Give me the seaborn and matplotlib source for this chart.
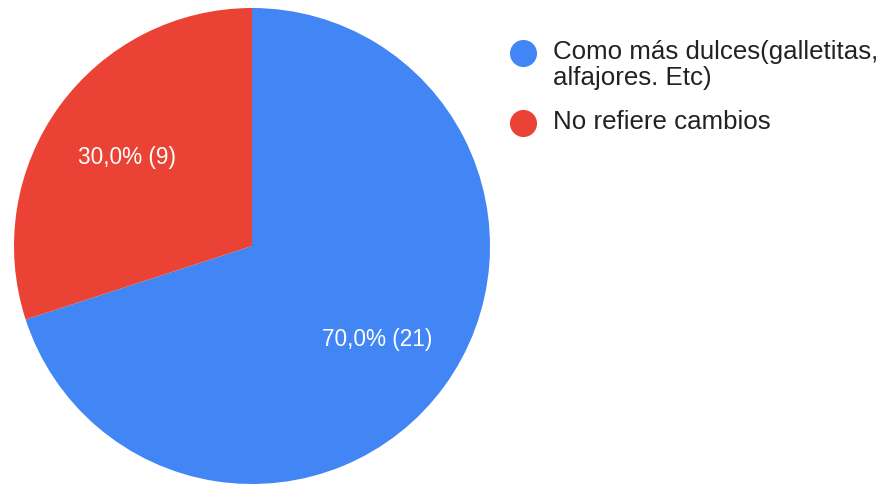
import matplotlib
matplotlib.use("Agg")
import matplotlib.pyplot as plt
from matplotlib.lines import Line2D
import seaborn as sns

categories = ["Como más dulces(galletitas,\nalfajores. Etc)", "No refiere cambios"]
counts = [21, 9]
colors = ["#4285F4", "#EA4335"]

sns.set_theme(style="white")
plt.rcParams["font.family"] = ["Liberation Sans", "DejaVu Sans"]

W, H = 888, 486
fig = plt.figure(figsize=(W / 100, H / 100), dpi=100)
fig.patch.set_facecolor("white")

# pie centred at (252, 246) px, radius 238 px
cx, cy, r = 252, 246, 238
ax = fig.add_axes([(cx - r) / W, (H - cy - r) / H, 2 * r / W, 2 * r / H])
total = sum(counts)


def fmt(pct):
    n = int(round(pct * total / 100))
    return f"{pct:.1f}".replace(".", ",") + f"% ({n})"


wedges, texts, autotexts = ax.pie(
    counts,
    colors=colors,
    startangle=90,
    counterclock=False,
    autopct=fmt,
    pctdistance=0.65,
    radius=1.0,
    wedgeprops=dict(linewidth=0),
    textprops=dict(color="white", fontsize=16.3),
)
for t in autotexts:
    x, y = t.get_position()
    t.set_position((x, y - 0.01))
ax.set_xlim(-1, 1)
ax.set_ylim(-1, 1)
ax.set_aspect("equal")
ax.axis("off")

# legend: dot aligned with first line of each entry
rows_y = [53, 123]
for lab, col, y in zip(categories, colors, rows_y):
    fig.add_artist(Line2D([523 / W], [(H - y) / H], marker="o", markersize=19.5,
                          color=col, markeredgewidth=0, linestyle="none",
                          transform=fig.transFigure))
    fig.text(553 / W, (H - y + 13) / H, lab, ha="left", va="top",
             fontsize=18.6, color="#222222", linespacing=1.1)

fig.savefig("out.png", dpi=100, facecolor="white")
